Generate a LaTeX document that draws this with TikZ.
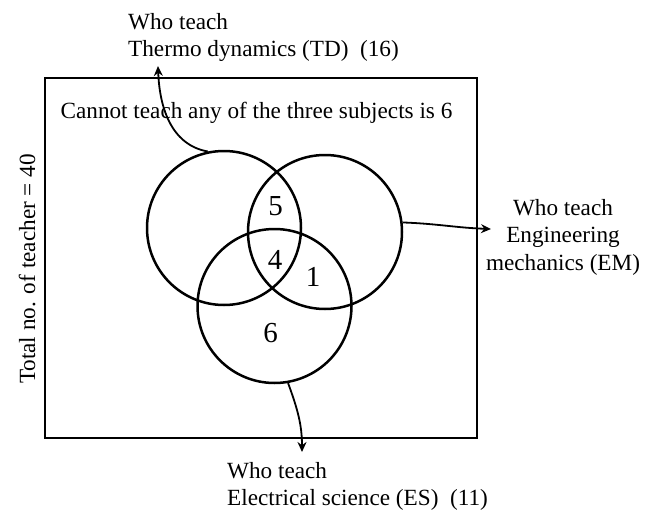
\documentclass[tikz,border=0pt]{standalone}
\usepackage{fontspec}
\setmainfont{Liberation Serif}
\usetikzlibrary{arrows.meta}
\begin{document}
\begin{tikzpicture}[x=1pt,y=-1pt,
  set/.style={draw,circle,line width=2.5pt,minimum size=154pt,inner sep=0pt},
  lbl/.style={font=\fontsize{23.2}{27.5}\selectfont,inner sep=0pt},
  num/.style={font=\fontsize{29}{32}\selectfont,inner sep=0pt,anchor=base},
  conn/.style={line width=1.8pt,-{Stealth[length=10pt,width=9pt]}}]
\useasboundingbox (0,0) rectangle (659,511);
\node[draw,line width=2.4pt,minimum width=432pt,minimum height=360pt,inner sep=0pt] (box) at (261,258) {};
\node[set] (td) at (224,228) {};
\node[set] (em) at (325,232) {};
\node[set] (es) at (274.5,306) {};
\node[num] (n5) at (275.5,215) {5};
\node[num] (n4) at (275,269) {4};
\node[num] (n1) at (313,286) {1};
\node[num] (n6) at (270.5,342) {6};
\node[lbl,anchor=base] (none) at (256.5,118) {Cannot teach any of the three subjects is 6};
\node[lbl,anchor=north west,align=left] (tdl) at (128,13) {Who teach\\Thermo dynamics (TD)\ \ (16)};
\node[lbl,anchor=north,align=center] (eml) at (563,199) {Who teach\\Engineering\\mechanics (EM)};
\node[lbl,anchor=north west,align=left] (esl) at (227,462) {Who teach\\Electrical science (ES)\ \ (11)};
\node[lbl,rotate=90,anchor=base] (tot) at (35,269) {Total no. of teacher = 40};
\coordinate (tdtip) at (158,66);
\coordinate (emtip) at (491,229);
\coordinate (estip) at (302,452);
\draw[conn] (td.102) to[out=170,in=-88] (tdtip);
\draw[conn] (em.7) to[out=-2,in=178] (emtip);
\draw[conn] (es.-80) to[out=-70,in=90] (estip);
\end{tikzpicture}
\end{document}
